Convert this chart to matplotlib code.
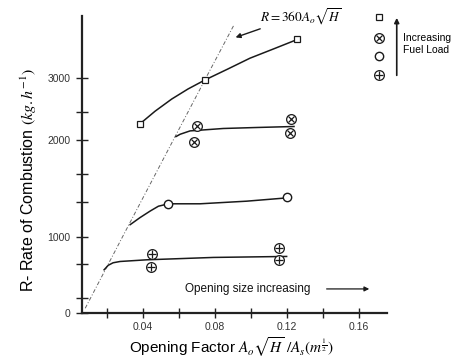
import numpy as np
import matplotlib
matplotlib.use("Agg")
import matplotlib.pyplot as plt

plt.rcParams['font.family'] = ['Liberation Sans', 'DejaVu Sans']
plt.rcParams['mathtext.fontset'] = 'stix'

# hand-drawn y axis: the tick spacing is not linear, so map values through anchors
y_anchor_vals = [0, 1000, 2000, 3000, 4000]
y_anchor_pos = [0, 76, 172.6, 234.3, 296]

# points (opening factor, R)
sq_x = [0.038, 0.0744, 0.1257]
sq_y = [2254, 2968, 3621]
sq_curve_x = [0.038, 0.0467, 0.0559, 0.0650, 0.0744, 0.0872, 0.0994, 0.1128, 0.1257]
sq_curve_y = [2254, 2465, 2660, 2823, 2968, 3146, 3319, 3472, 3621]

ox_x = [0.0698, 0.0685, 0.1221, 0.1217]
ox_y = [2227, 1979, 2335, 2120]
ox_curve_x = [0.0583, 0.0606, 0.0661, 0.0846, 0.1032, 0.1239]
ox_curve_y = [2055, 2092, 2146, 2185, 2201, 2217]

ci_x = [0.0541, 0.1202]
ci_y = [1342, 1408]
ci_curve_x = [0.0328, 0.0383, 0.0439, 0.0485, 0.0541, 0.0717, 0.0976, 0.12]
ci_curve_y = [1127, 1200, 1267, 1317, 1342, 1342, 1369, 1403]

op_x = [0.0452, 0.0443, 0.1156, 0.1157]
op_y = [776, 605, 855, 692]
op_curve_x = [0.0183, 0.0206, 0.0233, 0.0272, 0.0421, 0.0791, 0.1198]
op_curve_y = [570, 629, 662, 679, 701, 732, 745]

# R = 360 Ao sqrt(H) line
rule_x = [0.0078, 0.0285, 0.0568, 0.0749, 0.0906]
rule_y = [66, 1000, 2000, 3000, 3860]

x_ticks = [0.04, 0.08, 0.12, 0.16]
x_minor = [0.02, 0.06, 0.10, 0.14]
y_ticks = [0, 1000, 2000, 3000]
y_minor = [200, 650, 1360, 1650, 2450]


def fwd(v):
    return np.interp(v, y_anchor_vals, y_anchor_pos)


def inv(p):
    return np.interp(p, y_anchor_pos, y_anchor_vals)


line_c = '#1a1a1a'


def circ_mark(ax, x, y, inner, **kw):
    # circle with a cross or plus inside, like the hand-drawn symbols
    ax.plot(x, y, ls='none', marker='o', ms=7, mfc='white', mec=line_c, mew=0.9, **kw)
    ax.plot(x, y, ls='none', marker=inner, ms=4.6 if inner == 'x' else 6.2,
            color=line_c, mew=0.9, **kw)


fig = plt.figure(figsize=(4.59, 3.62), dpi=100)
ax = fig.add_axes([0.1786, 0.1345, 0.6645, 0.8213])
ax.set_yscale('function', functions=(fwd, inv))
ax.set_xlim(0.006, 0.1756)
ax.set_ylim(0, 4020)

ax.plot(rule_x, rule_y, color='#666666', lw=0.7, ls=(0, (4, 2, 1, 2)))
ax.plot(sq_curve_x, sq_curve_y, color=line_c, lw=1.1)
ax.plot(ox_curve_x, ox_curve_y, color=line_c, lw=1.1)
ax.plot(ci_curve_x, ci_curve_y, color=line_c, lw=1.1)
ax.plot(op_curve_x, op_curve_y, color=line_c, lw=1.1)

ax.plot(sq_x, sq_y, ls='none', marker='s', ms=4.5, mfc='white', mec=line_c, mew=0.9)
circ_mark(ax, ox_x, ox_y, 'x')
ax.plot(ci_x, ci_y, ls='none', marker='o', ms=6, mfc='white', mec=line_c, mew=1.0)
circ_mark(ax, op_x, op_y, '+')

# spines / ticks
for s in ['top', 'right']:
    ax.spines[s].set_visible(False)
for s in ['left', 'bottom']:
    ax.spines[s].set_linewidth(1.6)
    ax.spines[s].set_color('#222222')

ax.set_xticks(x_ticks + x_minor)
ax.set_xticklabels(['0.04', '0.08', '0.12', '0.16'] + [''] * 4)
ax.set_yticks(y_ticks + y_minor)
ax.set_yticklabels(['0', '1000', '2000', '3000'] + [''] * 5)
ax.tick_params(axis='x', direction='inout', length=7, width=1.0, color='#222222',
               labelsize=7.5, labelcolor='#333333', pad=3)
ax.tick_params(axis='y', direction='inout', length=8.5, width=1.0, color='#222222',
               labelsize=7.5, labelcolor='#333333', pad=4)

ax.set_ylabel(r'R- Rate of Combustion $(kg.h^{-1})$', fontsize=11.5)
ax.yaxis.set_label_coords(-0.14, 0.45)
ax.set_xlabel(r'Opening Factor $A_o\sqrt{H}\ /A_s(m^{\frac{1}{2}})$', fontsize=11)
ax.xaxis.set_label_coords(0.49, -0.075)

# annotations
ax.text(0.584, 0.997, r'$R = 360A_o\sqrt{H}$', transform=ax.transAxes,
        fontsize=9.5, va='center', ha='left')
ax.annotate('', xy=(0.495, 0.925), xytext=(0.593, 0.96),
            xycoords='axes fraction', textcoords='axes fraction',
            arrowprops=dict(arrowstyle='-|>', color=line_c, lw=1.0,
                            mutation_scale=7))

ax.text(0.338, 0.082, 'Opening size increasing', transform=ax.transAxes,
        fontsize=8.5, va='center', ha='left', color='#111111')
ax.annotate('', xy=(0.951, 0.082), xytext=(0.793, 0.082),
            xycoords='axes fraction', textcoords='axes fraction',
            arrowprops=dict(arrowstyle='-|>', color=line_c, lw=0.9,
                            mutation_scale=7))

# hand-made legend
leg_y = [0.996, 0.926, 0.867, 0.801]
ax.plot(0.974, leg_y[0], transform=ax.transAxes, marker='s', ms=4.5, mfc='white',
        mec=line_c, mew=0.9, clip_on=False)
circ_mark(ax, 0.974, leg_y[1], 'x', transform=ax.transAxes, clip_on=False)
ax.plot(0.974, leg_y[2], transform=ax.transAxes, marker='o', ms=6, mfc='white',
        mec=line_c, mew=1.0, clip_on=False)
circ_mark(ax, 0.974, leg_y[3], '+', transform=ax.transAxes, clip_on=False)
ax.annotate('', xy=(1.032, 1.003), xytext=(1.032, 0.791),
            xycoords='axes fraction', textcoords='axes fraction',
            arrowprops=dict(arrowstyle='-|>', color=line_c, lw=1.2,
                            mutation_scale=7))
ax.text(1.051, 0.906, 'Increasing\nFuel Load', transform=ax.transAxes,
        fontsize=7.5, va='center', ha='left', linespacing=1.2)

fig.savefig('out.png', dpi=100)
